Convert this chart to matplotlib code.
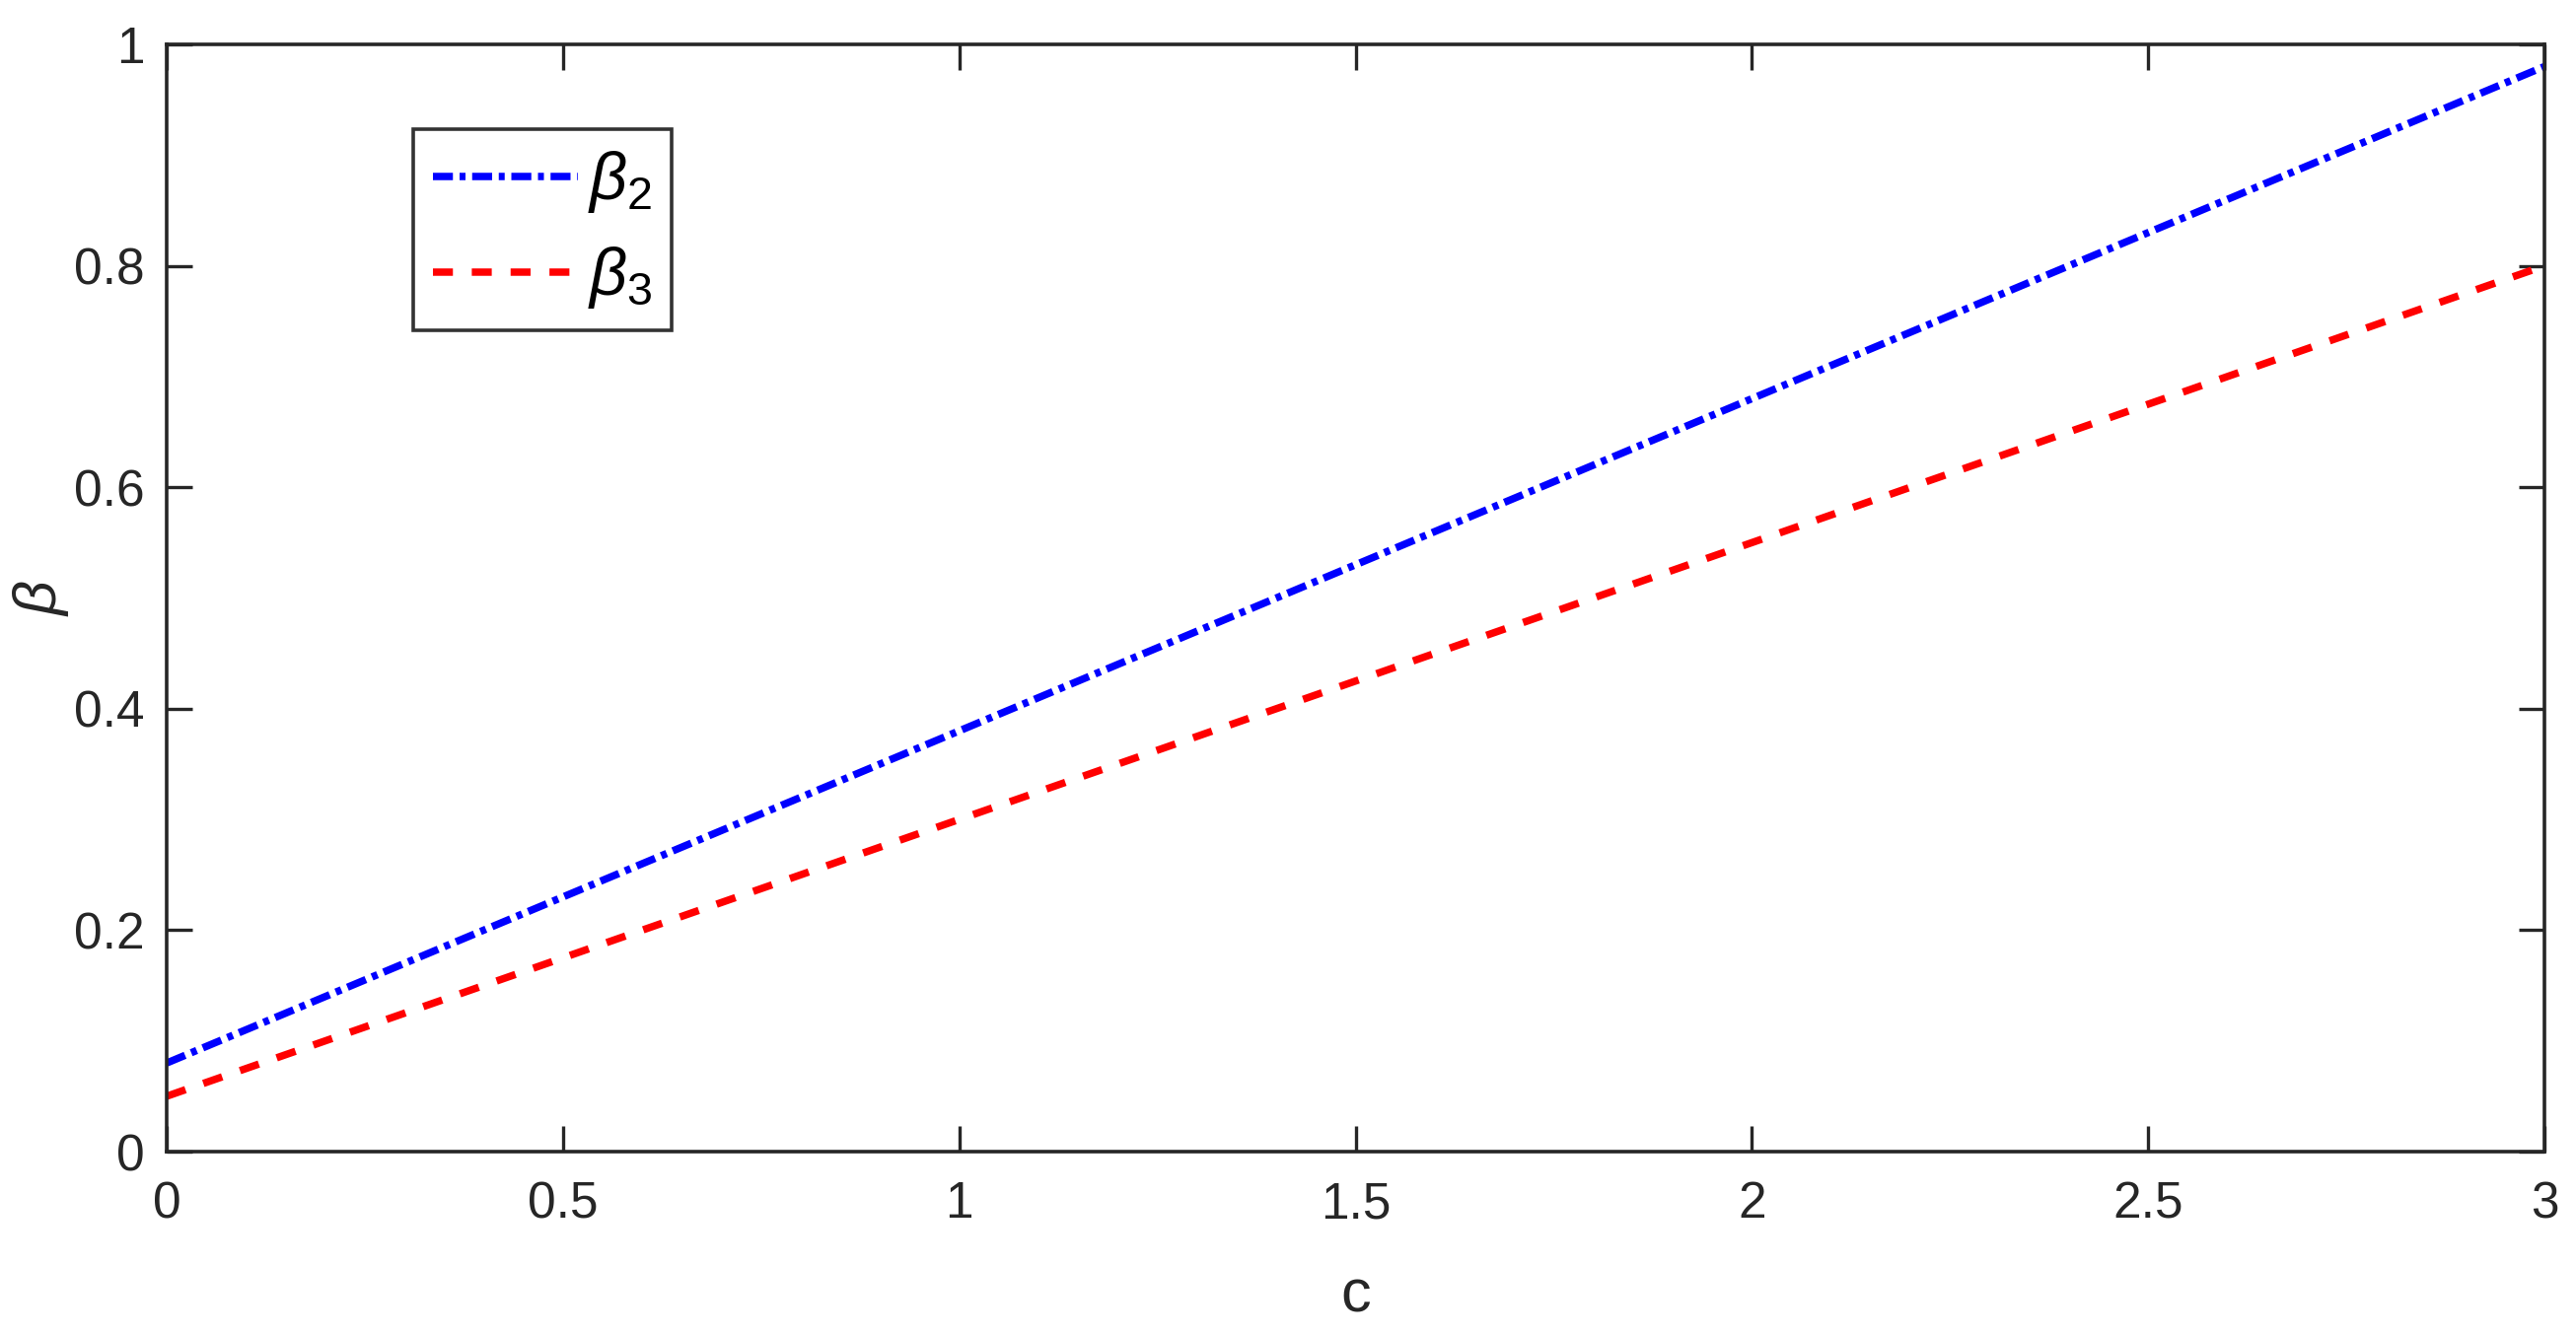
import matplotlib
matplotlib.use("Agg")
import matplotlib.pyplot as plt
from matplotlib import font_manager

plt.rcParams['font.family'] = ['Liberation Sans', 'DejaVu Sans']
plt.rcParams['mathtext.fontset'] = 'custom'
plt.rcParams['mathtext.it'] = 'Liberation Sans:italic'
plt.rcParams['mathtext.rm'] = 'Liberation Sans'

c = [0, 0.5, 1.0, 1.5, 2.0, 2.5, 3.0]
beta2 = [0.08, 0.23, 0.38, 0.53, 0.68, 0.83, 0.98]
beta3 = [0.05, 0.175, 0.30, 0.425, 0.55, 0.675, 0.80]
xticks = [0, 0.5, 1, 1.5, 2, 2.5, 3]
xticklabels = ['0', '0.5', '1', '1.5', '2', '2.5', '3']
yticks = [0, 0.2, 0.4, 0.6, 0.8, 1]
yticklabels = ['0', '0.2', '0.4', '0.6', '0.8', '1']

names = {f.name for f in font_manager.fontManager.ttflist}
tick_family = ['Liberation Sans Narrow', 'Liberation Sans'] if 'Liberation Sans Narrow' in names else ['Liberation Sans']
tick_size = 20 if 'Liberation Sans Narrow' in names else 18.5

dark = '#262626'
W, H = 2612, 1354
fig = plt.figure(figsize=(W / 200, H / 200), dpi=200)
L, R, T, B = 169, 2580, 45, 1168
ax = fig.add_axes([L / W, 1 - B / H, (R - L) / W, (B - T) / H])

ax.plot(c, beta2, color=(0, 0, 1), lw=2.7, ls=(0, (2.7, 0.9, 0.8, 0.9)), label=r'$\beta_2$')
ax.plot(c, beta3, color=(1, 0, 0), lw=2.7, ls=(0, (2.7, 2.55)), label=r'$\beta_3$')

ax.set_xlim(0, 3)
ax.set_ylim(0, 1)
ax.set_xticks(xticks)
ax.set_xticklabels(xticklabels, family=tick_family, fontsize=tick_size)
ax.set_yticks(yticks)
ax.set_yticklabels(yticklabels, family=tick_family, fontsize=tick_size)
ax.tick_params(direction='in', length=9.5, width=1.2, colors=dark,
               top=True, right=True, labelcolor=dark)
ax.tick_params(axis='x', pad=10.5)
ax.tick_params(axis='y', pad=8)
for s in ax.spines.values():
    s.set_linewidth(1.3)
    s.set_color(dark)

fig.text(((L + R) / 2) / W, 1 - 1315 / H, 'c', fontsize=22, color=dark,
         ha='center', va='center')
fig.text(41 / W, 1 - 607 / H, r'$\beta$', fontsize=22, color=dark,
         ha='center', va='center', rotation=90)

leg = ax.legend(loc='upper left', bbox_to_anchor=((419 - L) / (R - L), (B - 131) / (B - T)),
                fontsize=24, frameon=True, fancybox=False, edgecolor='black',
                handlelength=2.2, handletextpad=0.15, borderpad=0.3,
                labelspacing=0.45, borderaxespad=0)
leg.get_frame().set_linewidth(1.3)

fig.savefig('out.png', dpi=200)
